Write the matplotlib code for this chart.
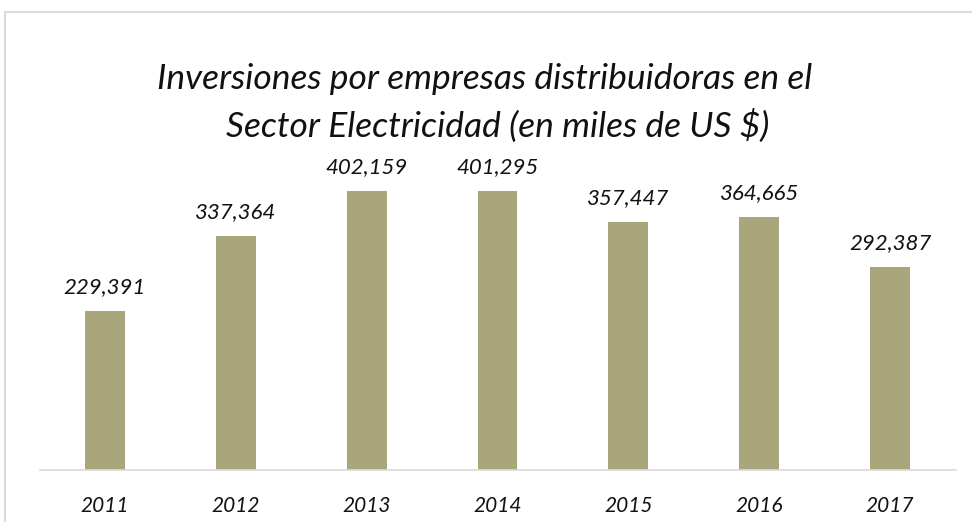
import matplotlib.pyplot as plt
from matplotlib.patches import Rectangle

years = ['2011', '2012', '2013', '2014', '2015', '2016', '2017']
inversion = [229391, 337364, 402159, 401295, 357447, 364665, 292387]
title_lines = ['Inversiones por empresas distribuidoras en el',
               'Sector Electricidad (en miles de US $)']

bar_color = '#aaa67c'
font = ['Lato', 'DejaVu Sans']

fig = plt.figure(figsize=(9.72, 5.22), dpi=100)
fig.patch.set_facecolor('white')

# outer frame of the chart area (cut off at the right and bottom)
fig.add_artist(Rectangle((5 / 972, -0.05), 1.0, 1 - 12 / 522 + 0.05,
                         transform=fig.transFigure, fill=False,
                         edgecolor='#dedbd4', linewidth=1.5))

# axes: baseline at y=470 px, scale chosen so that 402,159 reaches ~191 px
ax = fig.add_axes([39.5 / 972, 52 / 522, 916 / 972, 418 / 522])
x = range(len(years))
ax.bar(x, inversion, width=0.305, color=bar_color)
ax.set_xlim(-0.5, len(years) - 0.5)
ax.set_ylim(0, 602000)

for xi, v in zip(x, inversion):
    ax.annotate(f'{v:,}', (xi, v), xytext=(0, 10), textcoords='offset points',
                ha='center', va='bottom', fontsize=16, style='italic',
                family=font, color='#111111')

ax.set_xticks(list(x))
ax.set_xticklabels(years, fontsize=15, style='italic', family=font, color='#111111')
ax.tick_params(axis='x', length=0, pad=19)
ax.set_yticks([])
for side in ['top', 'right', 'left']:
    ax.spines[side].set_visible(False)
ax.spines['bottom'].set_color('#d9d9d9')
ax.spines['bottom'].set_linewidth(1.2)

# two title lines, the first one sits a little to the left (trailing space in the original)
for (cx, cy), line in zip([(485, 79), (498, 126)], title_lines):
    fig.text(cx / 972, 1 - cy / 522, line, ha='center', va='center',
             fontsize=25.5, style='italic', family=font, color='#111111')

fig.savefig('out.png', dpi=100)
